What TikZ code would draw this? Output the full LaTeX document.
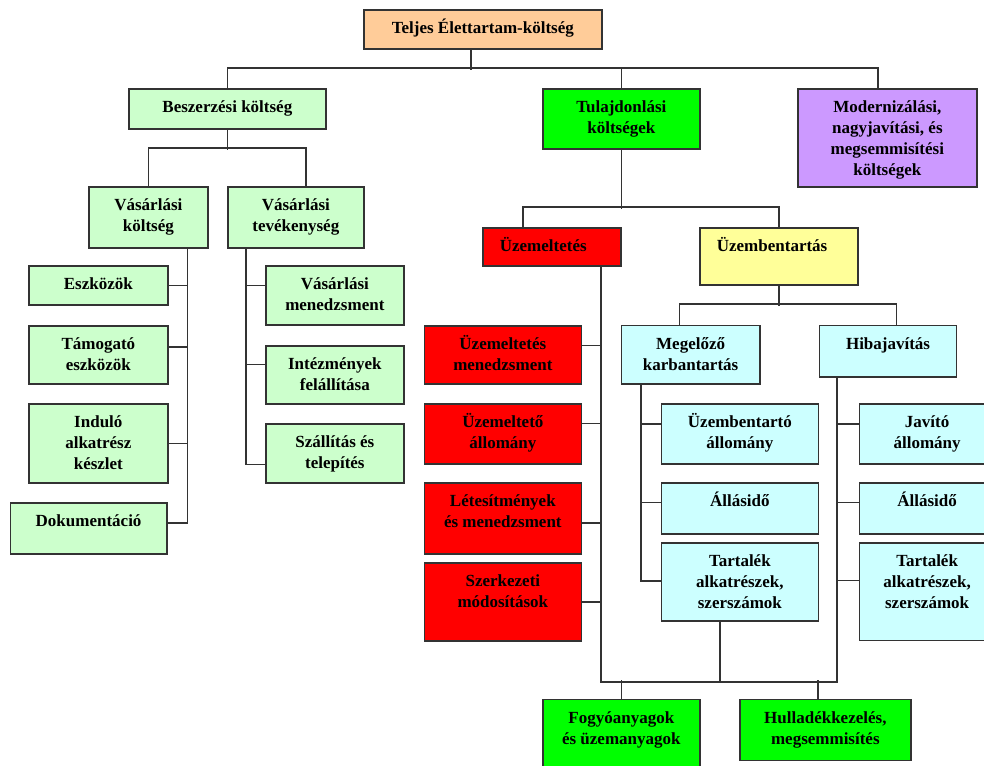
\documentclass[tikz,border=0pt]{standalone}
\usepackage{fontspec}
\setmainfont{Liberation Serif}
\usetikzlibrary{calc}
\definecolor{peach}{HTML}{FFCC99}
\definecolor{lgreen}{HTML}{CCFFCC}
\definecolor{bgreen}{HTML}{00FF00}
\definecolor{lpurple}{HTML}{CC99FF}
\definecolor{bred}{HTML}{FF0000}
\definecolor{lyellow}{HTML}{FFFF99}
\definecolor{lcyan}{HTML}{CCFFFF}
\definecolor{edge}{HTML}{333333}
\tikzset{
  box/.style={draw=edge, line width=1.7pt, inner sep=0pt, font=\fontsize{17}{21}\selectfont\bfseries},
  conn/.style={draw=edge, line width=1.7pt}
}
% name, x1, y1, x2, y2, fill, alignment, text
\newcommand\bx[8]{%
  \pgfmathsetmacro\bw{#4-#2}\pgfmathsetmacro\bh{#5-#3}%
  \node[box, fill=#6, anchor=north west] (#1) at (#2,#3)
    {\begin{minipage}[c][\bh pt][t]{\bw pt}#7\vspace*{7pt}\rule{0pt}{17pt}#8\end{minipage}};}
\begin{document}
\begin{tikzpicture}[x=1pt,y=-1pt]
\useasboundingbox (0,0) rectangle (984,765);
\fill[white] (0,0) rectangle (984,765);
% boxes
\bx{T}{363}{9}{601}{48}{peach}{\centering}{Teljes Élettartam-költség}
\bx{BE}{128}{88}{325}{128}{lgreen}{\centering}{Beszerzési költség}
\bx{TU}{542}{88}{699}{148}{bgreen}{\centering}{Tulajdonlási\\költségek}
\bx{MO}{797}{88}{976}{186}{lpurple}{\centering}{Modernizálási,\\nagyjavítási, és\\megsemmisítési\\költségek}
\bx{VK}{88}{186}{207}{247}{lgreen}{\centering}{Vásárlási\\költség}
\bx{VT}{227}{186}{363}{247}{lgreen}{\centering}{Vásárlási\\tevékenység}
\bx{ESZ}{28}{265}{167}{304}{lgreen}{\centering}{Eszközök}
\bx{TAM}{28}{325}{167}{383}{lgreen}{\centering}{Támogató\\eszközök}
\bx{IND}{28}{403}{167}{482}{lgreen}{\centering}{Induló\\alkatrész\\készlet}
\bx{DOK}{9.5}{502}{166}{553}{lgreen}{\centering}{Dokumentáció}
\bx{VM}{265}{265}{403}{324}{lgreen}{\centering}{Vásárlási\\menedzsment}
\bx{INT}{265}{345}{403}{403}{lgreen}{\centering}{Intézmények\\felállítása}
\bx{SZT}{265}{423}{403}{482}{lgreen}{\centering}{Szállítás és\\telepítés}
\bx{UZ}{482}{227}{620}{265}{bred}{\raggedright}{\hspace*{17pt}Üzemeltetés}
\bx{UB}{699}{227}{857}{284}{lyellow}{\raggedright}{\hspace*{17pt}Üzembentartás}
\bx{UM}{423.5}{325}{580.5}{383}{bred}{\centering}{Üzemeltetés\\menedzsment}
\bx{UA}{423.5}{403}{580.5}{463}{bred}{\centering}{Üzemeltető\\állomány}
\bx{LE}{423.5}{482}{580.5}{553}{bred}{\centering}{Létesítmények\\és menedzsment}
\bx{SZM}{423.5}{562}{580.5}{640}{bred}{\centering}{Szerkezeti\\módosítások}
\bx{MK}{620.5}{324.5}{759}{383}{lcyan}{\centering}{Megelőző\\karbantartás}
\bx{HJ}{818.7}{324.5}{955.7}{376}{lcyan}{\centering}{Hibajavítás}
\bx{UBA}{660.5}{403}{817.5}{463}{lcyan}{\centering}{Üzembentartó\\állomány}
\bx{AL1}{660.5}{482}{817.5}{533}{lcyan}{\centering}{Állásidő}
\bx{TA1}{660.5}{542}{817.5}{620}{lcyan}{\centering}{Tartalék\\alkatrészek,\\szerszámok}
\bx{JA}{858.5}{403}{994}{463}{lcyan}{\centering}{Javító\\állomány}
\bx{AL2}{858.5}{482}{994}{533}{lcyan}{\centering}{Állásidő}
\bx{TA2}{858.5}{542}{994}{639.5}{lcyan}{\centering}{Tartalék\\alkatrészek,\\szerszámok}
\bx{FO}{542}{698.5}{699}{780}{bgreen}{\centering}{Fogyóanyagok\\és üzemanyagok}
\bx{HU}{739}{698.5}{910}{759.5}{bgreen}{\centering}{Hulladékkezelés,\\megsemmisítés}
% level 1
\draw[conn] ($(T.south)+(-12,0)$) -- ++(0,20);
\draw[conn] (BE.north) -- ++(0,-20) -| ($(MO.north)+(-9.5,0)$);
\draw[conn] (TU.north) -- ++(0,-20);
% Beszerzesi
\draw[conn] (BE.south) -- ++(0,20);
\draw[conn] (VK.north) -- ++(0,-38) -| ($(VT.north)+(10,0)$);
\coordinate (vk) at ($(VK.south)+(39,0)$);
\draw[conn] (vk) |- ($(DOK.east)+(0,-5.5)$);
\draw[conn] (ESZ.east) -- ++(19.5,0);
\draw[conn] ($(TAM.east)+(0,-8)$) -- ++(19.5,0);
\draw[conn] (IND.east) -- ++(19.5,0);
\coordinate (vt) at ($(VT.south west)+(18.7,0)$);
\draw[conn] (vt) |- ($(SZT.west)+(0,11)$);
\draw[conn] ($(VM.west)+(0,-10)$) -- ++(-19.3,0);
\draw[conn] ($(INT.west)+(0,-10.5)$) -- ++(-19.3,0);
% Tulajdonlasi
\draw[conn] (TU.south) -- ++(0,59);
\draw[conn] ($(UZ.north)+(-29,0)$) -- ++(0,-20) -| (UB.north);
% Uzemeltetes
\coordinate (uz) at ($(UZ.south)+(49,0)$);
\coordinate (busB) at ($(TA1.south)+(-20,60)$);
\coordinate (hj) at ($(HJ.south west)+(18.6,0)$);
\draw[conn] (uz) |- (busB) -| (hj);
\draw[conn] ($(TA1.south)+(-20,0)$) -- (busB);
\draw[conn] ($(UM.east)+(0,-9.3)$) -- ++(19.5,0);
\draw[conn] ($(UA.east)+(0,-10.3)$) -- ++(19.5,0);
\draw[conn] ($(LE.east)+(0,4.5)$) -- ++(19.5,0);
\draw[conn] (SZM.east) -- ++(19.5,0);
\draw[conn] (FO.north) -- ++(0,-18.5);
\draw[conn] ($(HU.north)+(-7.5,0)$) -- ++(0,-18.5);
% Uzembentartas
\draw[conn] (UB.south) -- ++(0,20.3);
\draw[conn] ($(MK.north)+(-11,0)$) -- ++(0,-20.2) -| ($(HJ.north)+(8.5,0)$);
\coordinate (mk) at ($(MK.south west)+(20.2,0)$);
\draw[conn] (mk) |- ($(TA1.west)+(0,-1)$);
\draw[conn] ($(UBA.west)+(0,-10)$) -- ++(-19.8,0);
\draw[conn] ($(AL1.west)+(0,-6)$) -- ++(-19.8,0);
\draw[conn] ($(JA.west)+(0,-10)$) -- ++(-21.2,0);
\draw[conn] ($(AL2.west)+(0,-6)$) -- ++(-21.2,0);
\draw[conn] ($(TA2.west)+(0,-11)$) -- ++(-21.2,0);
\end{tikzpicture}
\end{document}
